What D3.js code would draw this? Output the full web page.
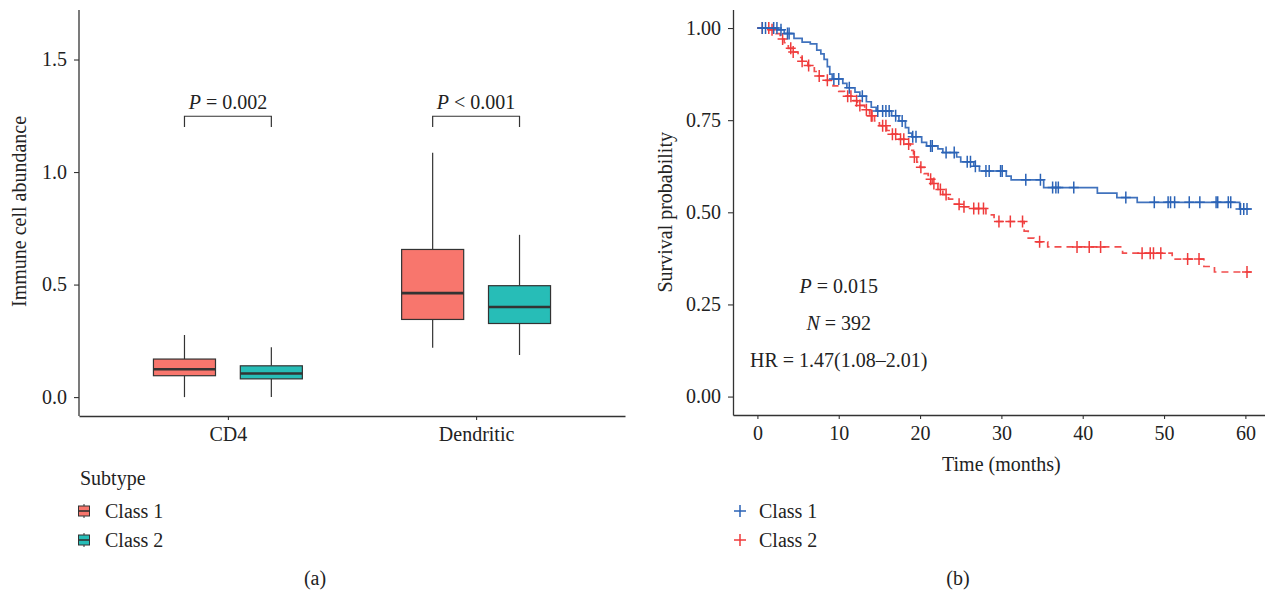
<!DOCTYPE html>
<html><head><meta charset="utf-8">
<script src="https://cdn.jsdelivr.net/npm/d3@7"></script>
<style>
html,body{margin:0;padding:0;background:#fff;}
svg{display:block;}
text{font-family:"Liberation Serif","DejaVu Serif",serif;fill:#222;}
</style></head>
<body>
<svg id="chart" width="1265" height="592"></svg>
<script>
// ---------- Panel (a) data ----------
const categories = ["CD4", "Dendritic"];
const subtypes = ["Class 1", "Class 2"];
const subtypeColors = ["#F8766D", "#27BDB7"];
// box stats per category: [min, q1, median, q3, max]
const class1Box = [[0.0, 0.095, 0.124, 0.169, 0.276], [0.219, 0.345, 0.462, 0.656, 1.086]];
const class2Box = [[0.0, 0.081, 0.105, 0.139, 0.221], [0.187, 0.327, 0.400, 0.495, 0.721]];
const pLabels = [["P", " = 0.002"], ["P", " < 0.001"]];
const bracketLow = 1.20, bracketHigh = 1.248, pLabelY = 1.31;
const leftYTicks = [0.0, 0.5, 1.0, 1.5];
const leftYTickLabels = ["0.0", "0.5", "1.0", "1.5"];

// ---------- Panel (b) data ----------
const kmGroups = ["Class 1", "Class 2"];
const kmColors = ["#2B63B6", "#EF3B3B"];
const class1Times = [0, 2.5, 3.3, 4.5, 5.5, 6.5, 7.3, 7.8, 8.2, 8.6, 8.9, 9.2, 10.5, 11.0, 12.0, 12.6, 13.4, 14.0, 14.6, 16.5, 17.4, 18.2, 18.6, 19.0, 20.2, 20.8, 22.2, 22.8, 24.5, 25.0, 26.6, 27.3, 30.6, 31.2, 35.2, 41.8, 44.2, 46.7, 59.3];
const class1Surv  = [1.0, 0.995, 0.985, 0.972, 0.962, 0.957, 0.94, 0.93, 0.915, 0.895, 0.875, 0.862, 0.85, 0.838, 0.826, 0.815, 0.80, 0.785, 0.775, 0.762, 0.748, 0.73, 0.715, 0.705, 0.69, 0.68, 0.672, 0.662, 0.65, 0.637, 0.625, 0.612, 0.598, 0.588, 0.567, 0.552, 0.54, 0.527, 0.509];
const class1Censor = [0.6, 1.0, 2.0, 2.4, 2.9, 3.7, 3.9, 9.4, 10.0, 11.3, 12.9, 14.8, 15.4, 15.8, 16.2, 17.0, 17.8, 19.1, 19.5, 21.3, 21.5, 23.2, 24.2, 25.8, 26.2, 26.8, 28.1, 28.5, 29.9, 30.1, 33.0, 34.8, 36.3, 36.7, 37.0, 38.9, 45.3, 48.8, 50.5, 50.8, 51.3, 53.1, 54.4, 56.4, 56.6, 57.9, 58.2, 59.4, 59.8, 60.2];
const class1End = 60.7;
const class2Times = [0, 1.5, 2.3, 2.8, 3.3, 3.8, 4.2, 5.0, 5.5, 6.2, 7.0, 7.5, 8.3, 9.3, 10.0, 10.7, 11.6, 12.3, 13.2, 13.8, 14.4, 15.0, 15.9, 16.5, 17.4, 18.2, 18.8, 19.2, 19.6, 20.0, 20.5, 21.0, 21.5, 22.2, 22.8, 23.5, 24.2, 25.0, 26.0, 28.1, 29.1, 32.8, 33.3, 34.0, 35.7, 44.9, 51.0, 54.9, 56.2];
const class2Surv  = [1.0, 0.995, 0.985, 0.97, 0.96, 0.945, 0.935, 0.92, 0.91, 0.898, 0.882, 0.87, 0.858, 0.843, 0.828, 0.815, 0.803, 0.79, 0.778, 0.762, 0.748, 0.735, 0.722, 0.712, 0.698, 0.685, 0.668, 0.65, 0.636, 0.622, 0.605, 0.59, 0.578, 0.562, 0.548, 0.536, 0.522, 0.515, 0.51, 0.493, 0.475, 0.449, 0.43, 0.42, 0.406, 0.389, 0.373, 0.353, 0.338];
const class2Censor = [0.6, 1.4, 1.8, 3.1, 4.1, 4.4, 5.5, 6.3, 7.6, 8.6, 11.1, 11.5, 12.2, 12.6, 13.4, 14.0, 14.1, 15.4, 15.8, 16.6, 17.0, 17.6, 18.0, 18.6, 19.3, 20.1, 21.3, 21.7, 22.5, 23.2, 24.8, 25.4, 26.6, 27.2, 27.8, 29.7, 31.1, 32.6, 34.7, 39.3, 40.8, 42.2, 47.3, 48.3, 48.7, 49.6, 52.9, 54.3, 60.2];
const class2End = 60.7;
const rightYTicks = [0, 0.25, 0.5, 0.75, 1.0];
const rightYTickLabels = ["0.00", "0.25", "0.50", "0.75", "1.00"];
const rightXTicks = [0, 10, 20, 30, 40, 50, 60];
const annotations = [[["P", true], [" = 0.015", false]], [["N", true], [" = 392", false]], [["HR = 1.47(1.08–2.01)", false]]];
const annotationY = [0.30, 0.20, 0.10];
const annotationX = 10;

const svg = d3.select("#chart");
const FS = 20;
const axisColor = "#333";

// ================= Panel (a) =================
const ax = d3.scalePoint().domain(categories).range([79, 625]).padding(0.6);
const ay = d3.scaleLinear().domain([-0.084, 1.72]).range([416, 10]);
const step = ax.step();
const dodge = [-0.175 * step, 0.175 * step];
const boxW = 0.25 * step;

const gA = svg.append("g");
const yAxisA = gA.append("g").attr("transform", "translate(79,0)")
  .call(d3.axisLeft(ay).tickValues(leftYTicks).tickFormat((d, i) => leftYTickLabels[i]).tickSize(5).tickSizeOuter(0));
const xAxisA = gA.append("g").attr("transform", "translate(0,416)")
  .call(d3.axisBottom(ax).tickSize(4).tickSizeOuter(0));
[yAxisA, xAxisA].forEach(g => {
  g.select(".domain").attr("stroke", axisColor).attr("stroke-width", 1.3);
  g.selectAll(".tick line").attr("stroke", axisColor).attr("stroke-width", 1.1);
  g.selectAll(".tick text").attr("font-size", FS).attr("fill", "#222").attr("font-family", "Liberation Serif");
});
yAxisA.selectAll(".tick text").attr("x", -12);
xAxisA.selectAll(".tick text").attr("y", 11);
yAxisA.select(".domain").attr("d", "M0,10V416");

gA.append("text").attr("transform", `translate(26,${ay(0.825)}) rotate(-90)`)
  .attr("text-anchor", "middle").attr("font-size", FS).text("Immune cell abundance");

const boxSets = [class1Box, class2Box];
boxSets.forEach((set, si) => {
  set.forEach((st, ci) => {
    const cx = ax(categories[ci]) + dodge[si];
    const [mn, q1, md, q3, mx] = st;
    const g = gA.append("g");
    g.append("line").attr("x1", cx).attr("x2", cx).attr("y1", ay(mx)).attr("y2", ay(q3)).attr("stroke", axisColor).attr("stroke-width", 1.2);
    g.append("line").attr("x1", cx).attr("x2", cx).attr("y1", ay(q1)).attr("y2", ay(mn)).attr("stroke", axisColor).attr("stroke-width", 1.2);
    g.append("rect").attr("x", cx - boxW / 2).attr("y", ay(q3)).attr("width", boxW).attr("height", ay(q1) - ay(q3))
      .attr("fill", subtypeColors[si]).attr("stroke", axisColor).attr("stroke-width", 1.2);
    g.append("line").attr("x1", cx - boxW / 2).attr("x2", cx + boxW / 2).attr("y1", ay(md)).attr("y2", ay(md))
      .attr("stroke", "#333").attr("stroke-width", 2.6);
  });
});

categories.forEach((c, ci) => {
  const x1 = ax(c) + dodge[0], x2 = ax(c) + dodge[1];
  gA.append("path").attr("d", `M${x1},${ay(bracketLow)}V${ay(bracketHigh)}H${x2}V${ay(bracketLow)}`)
    .attr("fill", "none").attr("stroke", axisColor).attr("stroke-width", 1.2);
  const t = gA.append("text").attr("x", ax(c)).attr("y", ay(pLabelY)).attr("dy", "0.35em")
    .attr("text-anchor", "middle").attr("font-size", FS);
  t.append("tspan").attr("font-style", "italic").text(pLabels[ci][0]);
  t.append("tspan").text(pLabels[ci][1]);
});

gA.append("text").attr("x", 80).attr("y", 485).attr("font-size", FS).text("Subtype");
subtypes.forEach((s, i) => {
  const cy = 511 + i * 29;
  const lg = gA.append("g");
  lg.append("line").attr("x1", 84).attr("x2", 84).attr("y1", cy - 7).attr("y2", cy + 7).attr("stroke", axisColor).attr("stroke-width", 1);
  lg.append("rect").attr("x", 78.5).attr("y", cy - 5).attr("width", 11).attr("height", 10)
    .attr("fill", subtypeColors[i]).attr("stroke", axisColor).attr("stroke-width", 1);
  lg.append("line").attr("x1", 78.5).attr("x2", 89.5).attr("y1", cy).attr("y2", cy).attr("stroke", "#333").attr("stroke-width", 1.6);
  lg.append("text").attr("x", 105).attr("y", cy).attr("dy", "0.35em").attr("font-size", FS).text(s);
});
svg.append("text").attr("x", 315).attr("y", 578).attr("dy", "0.35em").attr("text-anchor", "middle").attr("font-size", FS).text("(a)");

// ================= Panel (b) =================
const bx = d3.scaleLinear().domain([-3, 63]).range([733, 733 + 66 * 8.133]);
const by = d3.scaleLinear().domain([-0.05, 1.05]).range([415, 9.6]);
const gB = svg.append("g");
const yAxisB = gB.append("g").attr("transform", "translate(733,0)")
  .call(d3.axisLeft(by).tickValues(rightYTicks).tickFormat((d, i) => rightYTickLabels[i]).tickSize(5).tickSizeOuter(0));
const xAxisB = gB.append("g").attr("transform", "translate(0,415)")
  .call(d3.axisBottom(bx).tickValues(rightXTicks).tickFormat(d3.format("d")).tickSize(4).tickSizeOuter(0));
[yAxisB, xAxisB].forEach(g => {
  g.select(".domain").attr("stroke", axisColor).attr("stroke-width", 1.3);
  g.selectAll(".tick line").attr("stroke", axisColor).attr("stroke-width", 1.1);
  g.selectAll(".tick text").attr("font-size", FS).attr("fill", "#222").attr("font-family", "Liberation Serif");
});
yAxisB.selectAll(".tick text").attr("x", -12);
xAxisB.selectAll(".tick text").attr("y", 11);

gB.append("text").attr("transform", `translate(672,${by(0.5)}) rotate(-90)`)
  .attr("text-anchor", "middle").attr("font-size", FS).text("Survival probability");
gB.append("text").attr("x", bx(30)).attr("y", 471).attr("text-anchor", "middle").attr("font-size", FS).text("Time (months)");

annotations.forEach((parts, i) => {
  const t = gB.append("text").attr("x", bx(annotationX)).attr("y", by(annotationY[i])).attr("dy", "0.35em")
    .attr("text-anchor", "middle").attr("font-size", FS);
  parts.forEach(p => t.append("tspan").attr("font-style", p[1] ? "italic" : "normal").text(p[0]));
});

const kmData = [
  {times: class1Times, surv: class1Surv, censor: class1Censor, end: class1End, dash: null},
  {times: class2Times, surv: class2Surv, censor: class2Censor, end: class2End, dash: "7,5"}
];
function survAt(d, t) {
  let s = d.surv[0];
  for (let i = 0; i < d.times.length; i++) { if (d.times[i] <= t) s = d.surv[i]; }
  return s;
}
kmData.slice().reverse().forEach((d, ri) => {
  const gi = kmData.length - 1 - ri;
  const col = kmColors[gi];
  let p = `M${bx(d.times[0])},${by(d.surv[0])}`;
  for (let i = 1; i < d.times.length; i++) p += `H${bx(d.times[i])}V${by(d.surv[i])}`;
  p += `H${bx(d.end)}`;
  gB.append("path").attr("d", p).attr("fill", "none").attr("stroke", col).attr("stroke-width", 1.7)
    .attr("stroke-dasharray", d.dash).attr("opacity", 0.9);
  d.censor.forEach(c => {
    const cx = bx(c), cy = by(survAt(d, c));
    gB.append("path").attr("d", `M${cx - 5},${cy}H${cx + 5}M${cx},${cy - 6}V${cy + 6}`)
      .attr("stroke", col).attr("stroke-width", 1.5).attr("fill", "none");
  });
});

kmGroups.forEach((g, i) => {
  const cy = 511 + i * 29;
  gB.append("path").attr("d", `M${734},${cy}H${746}M${740},${cy - 6}V${cy + 6}`)
    .attr("stroke", kmColors[i]).attr("stroke-width", 1.5).attr("fill", "none");
  gB.append("text").attr("x", 759).attr("y", cy).attr("dy", "0.35em").attr("font-size", FS).text(g);
});
svg.append("text").attr("x", 958).attr("y", 578).attr("dy", "0.35em").attr("text-anchor", "middle").attr("font-size", FS).text("(b)");
</script>
</body></html>
